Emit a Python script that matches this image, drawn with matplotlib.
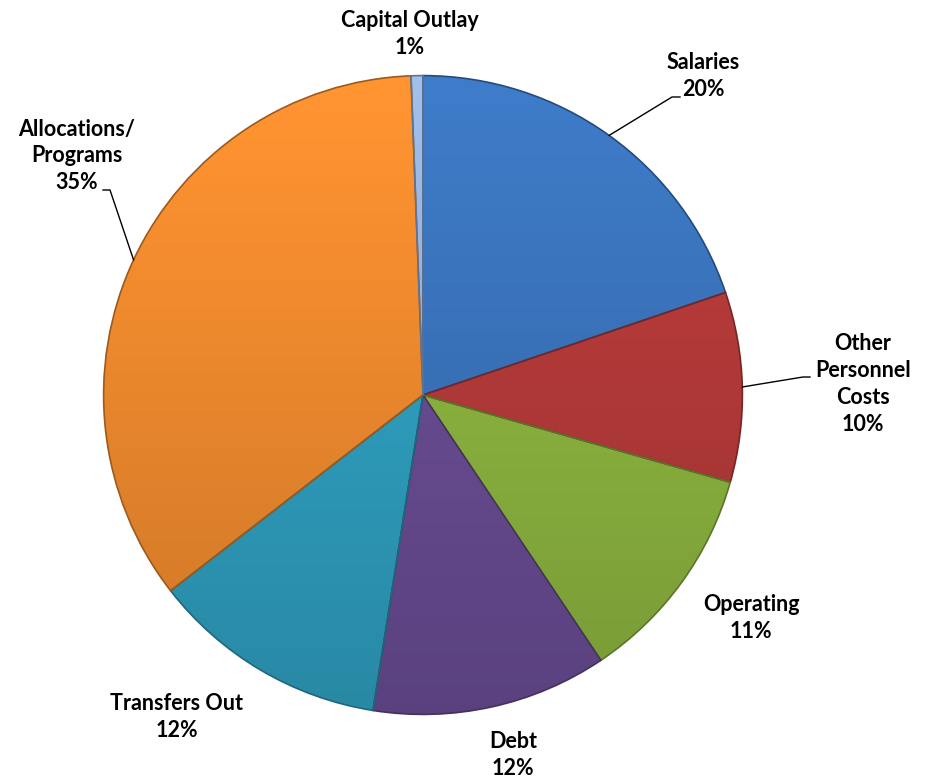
import numpy as np
import matplotlib
matplotlib.use("Agg")
import matplotlib.pyplot as plt
from matplotlib.colors import to_rgb

categories = ["Salaries", "Other\nPersonnel\nCosts", "Operating", "Debt",
              "Transfers Out", "Allocations/\nPrograms", "Capital Outlay"]
values = [19.8, 9.6, 11.2, 11.9, 12.0, 34.9, 0.6]
colors = ["#3a73bb", "#b33a39", "#8cb43f", "#694c93", "#2f9fbf", "#ef8a2e", "#95b2dc"]

W, H = 932, 780
CX, CY, R = 423, 395, 321  # pie layout in pixels

fig = plt.figure(figsize=(W / 100, H / 100), dpi=100)
ax = fig.add_axes([(CX - R) / W, (H - CY - R) / H, 2 * R / W, 2 * R / H])

wedges, _ = ax.pie(values, colors=colors, startangle=90, counterclock=False,
                   radius=0.995, wedgeprops=dict(linewidth=1.0, edgecolor="none"))
ax.set_aspect("equal")
ax.axis("off")

# gradient shading clipped to each wedge
yy = np.linspace(1, -1, 200)[:, None] * np.ones((1, 200))
shade = 1.08 - 0.22 * (1 - yy) / 2
for w, c in zip(wedges, colors):
    base = np.array(to_rgb(c))
    img = np.clip(shade[..., None] * base[None, None, :], 0, 1)
    im = ax.imshow(img, extent=(-1, 1, -1, 1), zorder=1, interpolation="bilinear")
    im.set_clip_path(w)
    w.set_facecolor("none")
    w.set_edgecolor(tuple(np.clip(base * 0.65, 0, 1)))
    w.set_linewidth(1.2)
    w.set_zorder(2)
ax.set_xlim(-1, 1)
ax.set_ylim(-1, 1)

def px2d(px, py):
    return (px - CX) / R, (CY - py) / R

# label positions (pixel layout)
label_pos = [(703, 76), (863, 384), (751, 618), (513, 755), (177, 717), (77, 156), (410, 34)]
leaders = {0: [(672, 97), (680, 97)], 1: [(803, 377), (810, 377)], 5: [(110, 190), (103, 190)]}

total = sum(values)
theta = 90.0
font = dict(family="Lato", fontweight="bold", fontsize=15.5, color="black")
for i, (cat, v) in enumerate(zip(categories, values)):
    sweep = 360 * v / total
    mid = np.deg2rad(theta - sweep / 2)
    theta -= sweep
    tx, ty = px2d(*label_pos[i])
    ax.text(tx, ty, f"{cat}\n{round(v)}%", ha="center", va="center",
            linespacing=1.35, clip_on=False, **font)
    if i in leaders:
        pts = [(np.cos(mid) * 0.995, np.sin(mid) * 0.995)] + [px2d(*p) for p in leaders[i]]
        xs, ys = zip(*pts)
        ax.plot(xs, ys, color="black", lw=1.0, clip_on=False, zorder=3)

fig.savefig("out.png", dpi=100, facecolor="white")
